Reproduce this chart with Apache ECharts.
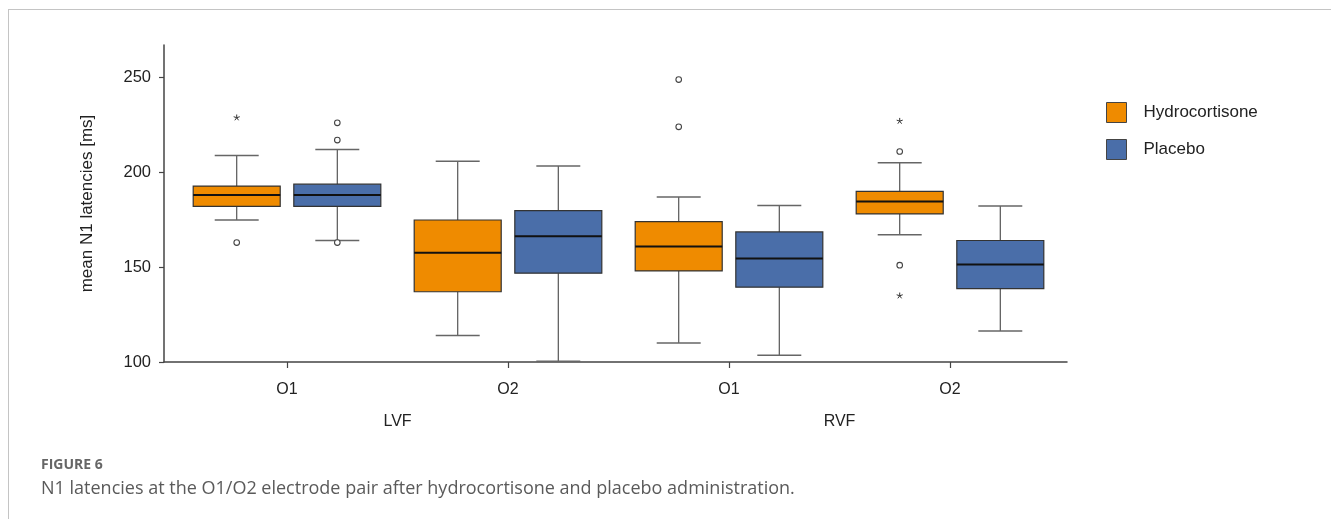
<!DOCTYPE html>
<html><head><meta charset="utf-8">
<script src="https://cdn.jsdelivr.net/npm/echarts@6/dist/echarts.min.js"></script>
<style>
html,body{margin:0;padding:0;background:#fff;}
#wrap{position:relative;width:1331px;height:519px;overflow:hidden;background:#fff;}
#frame{position:absolute;left:8px;top:9px;width:1400px;height:600px;border-top:1px solid #c4c4c4;border-left:1px solid #c4c4c4;}
#chart{position:absolute;left:0;top:0;width:1331px;height:519px;}
</style></head><body>
<div id="wrap"><div id="frame"></div><div id="chart"></div></div>
<script>
const electrodes = ['O1', 'O2', 'O1', 'O2'];
const fields = ['LVF', 'RVF'];
const yTicks = [100, 150, 200, 250];
const seriesNames = ['Hydrocortisone', 'Placebo'];
// [lower whisker, Q1, median, Q3, upper whisker]
const hydroBox = [
  [174.8, 182.0, 188.0, 192.7, 208.8],
  [114.0, 137.0, 157.5, 174.8, 205.8],
  [110.0, 148.0, 160.8, 174.0, 186.9],
  [167.1, 178.0, 184.5, 189.9, 205.0]
];
const placeboBox = [
  [164.0, 182.0, 188.0, 193.7, 212.0],
  [100.4, 146.8, 166.2, 179.7, 203.2],
  [103.5, 139.4, 154.5, 168.5, 182.5],
  [116.3, 138.7, 151.4, 164.0, 182.2]
];
// outliers: [category index, value]
const hydroCircles = [[0, 162.9], [2, 248.8], [2, 223.9], [3, 210.9], [3, 151.0]];
const hydroStars = [[0, 228.7], [3, 226.9], [3, 134.9]];
const placeboCircles = [[0, 226.0], [0, 216.9], [0, 162.9]];
const placeboStars = [];

const COLORS = ['#EF8B00', '#4A6EA9'];
const OFFSET = 0.2276, BOXW = 0.3937, CAPW = 0.199;
const FONT = 'Liberation Sans, Arial, sans-serif';

function boxRender(side) {
  return function (params, api) {
    const i = api.value(0);
    const unit = api.size([1, 0])[0];
    const cx = api.coord([i, 150])[0] + side * unit * OFFSET;
    const y = k => api.coord([i, api.value(k)])[1];
    const yMin = y(1), yQ1 = y(2), yMed = y(3), yQ3 = y(4), yMax = y(5);
    const hw = unit * BOXW / 2, cw = unit * CAPW / 2;
    const color = api.visual('color');
    const wl = { stroke: '#555', lineWidth: 1.2 };
    const cl = { stroke: '#666', lineWidth: 1.5 };
    return {
      type: 'group', children: [
        { type: 'line', shape: { x1: cx, y1: yQ3, x2: cx, y2: yMax }, style: wl },
        { type: 'line', shape: { x1: cx, y1: yQ1, x2: cx, y2: yMin }, style: wl },
        { type: 'line', shape: { x1: cx - cw, y1: yMax, x2: cx + cw, y2: yMax }, style: cl },
        { type: 'line', shape: { x1: cx - cw, y1: yMin, x2: cx + cw, y2: yMin }, style: cl },
        { type: 'rect', shape: { x: cx - hw, y: yQ3, width: 2 * hw, height: yQ1 - yQ3 }, style: { fill: color, stroke: '#333', lineWidth: 1.2 } },
        { type: 'line', shape: { x1: cx - hw, y1: yMed, x2: cx + hw, y2: yMed }, style: { stroke: '#111', lineWidth: 2 } }
      ]
    };
  };
}
function circleRender(side) {
  return function (params, api) {
    const i = api.value(0);
    const unit = api.size([1, 0])[0];
    const p = api.coord([i, api.value(1)]);
    return { type: 'circle', shape: { cx: p[0] + side * unit * OFFSET, cy: p[1], r: 2.8 }, style: { fill: '#fff', stroke: '#444', lineWidth: 1.1 } };
  };
}
function starRender(side) {
  return function (params, api) {
    const i = api.value(0);
    const unit = api.size([1, 0])[0];
    const p = api.coord([i, api.value(1)]);
    const cx = p[0] + side * unit * OFFSET, cy = p[1];
    const arms = [];
    for (let k = 0; k < 5; k++) {
      const a = -Math.PI / 2 + k * 2 * Math.PI / 5;
      arms.push({ type: 'line', shape: { x1: cx, y1: cy, x2: cx + 3.2 * Math.cos(a), y2: cy + 3.2 * Math.sin(a) }, style: { stroke: '#333', lineWidth: 1 } });
    }
    return { type: 'group', children: arms };
  };
}

const xMin = -0.5566, xMax = 3.5294;
const chart = echarts.init(document.getElementById('chart'), null, { renderer: 'canvas' });
chart.setOption({
  animation: false,
  backgroundColor: 'transparent',
  textStyle: { fontFamily: FONT },
  title: [
    { text: 'FIGURE 6', left: 41, top: 458, padding: 0, textStyle: { fontFamily: 'Open Sans', fontWeight: 'bold', fontSize: 14, color: '#666' } },
    { text: 'N1 latencies at the O1/O2 electrode pair after hydrocortisone and placebo administration.', left: 41, top: 480, padding: 0,
      textStyle: { fontFamily: 'Open Sans', fontWeight: 'normal', fontSize: 18, color: '#5a5a5a' } }
  ],
  legend: {
    data: seriesNames, orient: 'vertical', left: 1106, top: 102, padding: 0,
    itemWidth: 20, itemHeight: 20, itemGap: 16, icon: 'rect',
    itemStyle: { borderColor: '#444', borderWidth: 1 },
    textStyle: { fontFamily: FONT, fontSize: 17, color: '#222', padding: [0, 0, 0, 12] }
  },
  grid: { left: 164, right: 264, top: 45, bottom: 157, containLabel: false, outerBoundsMode: 'none' },
  xAxis: [
    {
      type: 'value', min: xMin, max: xMax, position: 'bottom', offset: 0,
      axisLine: { show: true, onZero: false, lineStyle: { color: '#444', width: 1.5 } },
      axisTick: { show: true, customValues: [0, 1, 2, 3], length: 6, lineStyle: { color: '#444', width: 1.2 } },
      axisLabel: { customValues: [0, 1, 2, 3], formatter: v => electrodes[Math.round(v)], margin: 20, fontSize: 16, color: '#222', fontFamily: FONT },
      splitLine: { show: false }
    },
    {
      type: 'value', min: xMin, max: xMax, position: 'bottom', offset: 0,
      axisLine: { show: false, onZero: false }, axisTick: { show: false },
      axisLabel: { customValues: [0.5, 2.5], formatter: v => fields[Math.round((v - 0.5) / 2)], margin: 52, fontSize: 16, color: '#222', fontFamily: FONT },
      splitLine: { show: false }
    }
  ],
  yAxis: {
    type: 'value', min: 100, max: 267,
    name: 'mean N1 latencies [ms]', nameLocation: 'middle', nameGap: 68,
    nameTextStyle: { fontSize: 17, color: '#222', fontFamily: FONT },
    axisLine: { show: true, onZero: false, lineStyle: { color: '#444', width: 1.5 } },
    axisTick: { show: true, customValues: yTicks, length: 5, lineStyle: { color: '#444', width: 1.2 } },
    axisLabel: { customValues: yTicks, margin: 13, fontSize: 16.5, color: '#222', fontFamily: FONT },
    splitLine: { show: false }
  },
  series: [
    { name: seriesNames[0], type: 'custom', renderItem: boxRender(-1), itemStyle: { color: COLORS[0] },
      data: hydroBox.map((b, i) => [i].concat(b)), encode: { x: 0, y: [1, 2, 3, 4, 5] }, z: 2 },
    { name: seriesNames[1], type: 'custom', renderItem: boxRender(1), itemStyle: { color: COLORS[1] },
      data: placeboBox.map((b, i) => [i].concat(b)), encode: { x: 0, y: [1, 2, 3, 4, 5] }, z: 2 },
    { name: 'h-circles', type: 'custom', renderItem: circleRender(-1), data: hydroCircles, encode: { x: 0, y: 1 }, z: 3 },
    { name: 'h-stars', type: 'custom', renderItem: starRender(-1), data: hydroStars, encode: { x: 0, y: 1 }, z: 3 },
    { name: 'p-circles', type: 'custom', renderItem: circleRender(1), data: placeboCircles, encode: { x: 0, y: 1 }, z: 3 },
    { name: 'p-stars', type: 'custom', renderItem: starRender(1), data: placeboStars, encode: { x: 0, y: 1 }, z: 3 }
  ]
});
</script>
</body></html>
